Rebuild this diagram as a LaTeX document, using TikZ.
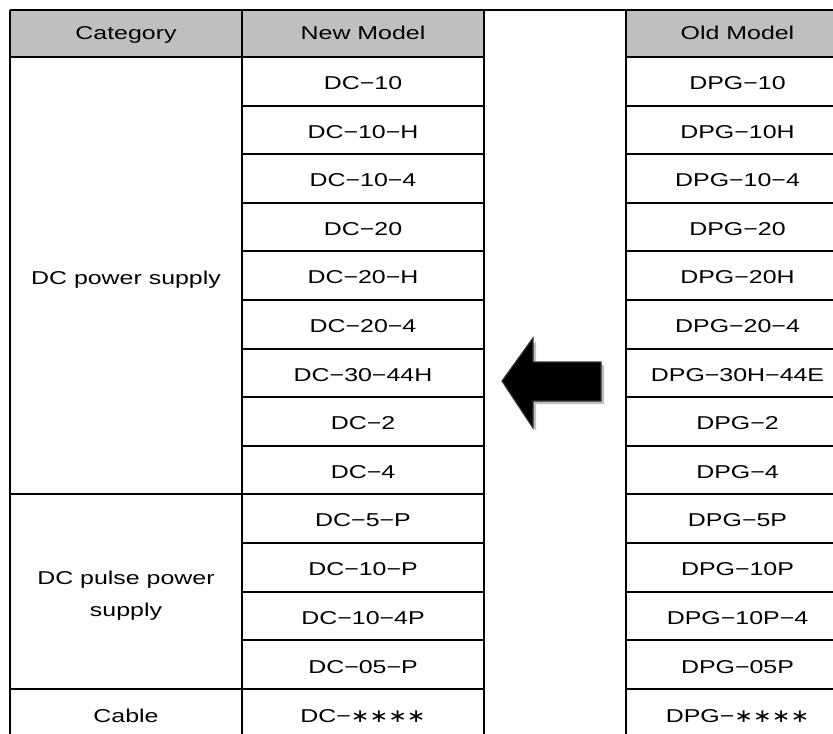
\documentclass[tikz,border=0pt]{standalone}
\usepackage{fontspec}
\setmainfont{Liberation Sans}[FakeStretch=1.34]
\newfontfamily\starfont{DejaVu Sans}[FakeStretch=1.2]
\usepackage{tikz}
\usetikzlibrary{calc,positioning}

\newcommand{\stars}{{\starfont ∗∗∗∗}}

\tikzset{
  cell/.style={inner sep=0pt, text height=0.716em, text depth=0pt,
    font=\fontsize{9.3pt}{16pt}\selectfont},
  rule/.style={line width=1pt},
  headfill/.style={fill=black!25},
}

\begin{document}
\begin{tikzpicture}[x=0.5pt,y=-0.5pt]
\useasboundingbox (0,0) rectangle (833,733);
\begin{scope}
\clip (0,0) rectangle (833,733);
% header shading
\fill [headfill] (10,10) rectangle (484,57);
\fill [headfill] (626,10) rectangle (850,57);
% row rules in the two model columns
\foreach \y in {57,105.6,154.2,202.8,251.4,300,348.6,397.2,445.8,494.4,543,591.6,640.2,688.8}
{
  \draw [rule] (242,\y) -- (484,\y);
  \draw [rule] (626,\y) -- (850,\y);
}
% rules that cross the category column
\draw [rule] (10,57) -- (242,57);
\draw [rule] (10,494.4) -- (242,494.4);
\draw [rule] (10,688.8) -- (242,688.8);
% outer frame and column rules
\draw [rule] (10,10) -- (850,10);
\draw [rule] (10,10) -- (10,740);
\draw [rule] (242,10) -- (242,740);
\draw [rule] (484,10) -- (484,740);
\draw [rule] (626,10) -- (626,740);
\end{scope}

% headings
\node[cell] (cathead) at (126,32) {Category};
\node[cell] (newhead) at (363,32) {New Model};
\node[cell] (oldhead) at (737.5,32) {Old Model};

% categories
\node[cell] (catdc) at (126,277) {DC power supply};
\node[cell, align=center] (catpulse) at (126,609)%
{DC pulse power\\supply};
\node[cell] (catcable) at (126,715) {Cable};

% new models
\node[cell] (new1) at (363,82.3) {DC−10};
\node[cell] (new2) at (363,130.9) {DC−10−H};
\node[cell] (new3) at (363,179.5) {DC−10−4};
\node[cell] (new4) at (363,228.1) {DC−20};
\node[cell] (new5) at (363,276.7) {DC−20−H};
\node[cell] (new6) at (363,325.3) {DC−20−4};
\node[cell] (new7) at (363,373.9) {DC−30−44H};
\node[cell] (new8) at (363,422.5) {DC−2};
\node[cell] (new9) at (363,471.1) {DC−4};
\node[cell] (new10) at (363,519.7) {DC−5−P};
\node[cell] (new11) at (363,568.3) {DC−10−P};
\node[cell] (new12) at (363,616.9) {DC−10−4P};
\node[cell] (new13) at (363,666.5) {DC−05−P};
\node[cell] (new14) at (363,715) {DC−\stars};

% old models
\node[cell] (old1) at (737.5,82.3) {DPG−10};
\node[cell] (old2) at (737.5,130.9) {DPG−10H};
\node[cell] (old3) at (737.5,179.5) {DPG−10−4};
\node[cell] (old4) at (737.5,228.1) {DPG−20};
\node[cell] (old5) at (737.5,276.7) {DPG−20H};
\node[cell] (old6) at (737.5,325.3) {DPG−20−4};
\node[cell] (old7) at (737.5,373.9) {DPG−30H−44E};
\node[cell] (old8) at (737.5,422.5) {DPG−2};
\node[cell] (old9) at (737.5,471.1) {DPG−4};
\node[cell] (old10) at (737.5,519.7) {DPG−5P};
\node[cell] (old11) at (737.5,568.3) {DPG−10P};
\node[cell] (old12) at (737.5,616.9) {DPG−10P−4};
\node[cell] (old13) at (737.5,666.5) {DPG−05P};
\node[cell] (old14) at (737.5,715) {DPG−\stars};

% block arrow, old -> new
\fill [black!25] (505,384) -- (536,341) -- (536,365) -- (604,365)
  -- (604,404) -- (536,404) -- (536,431) -- cycle;
\fill [draw=black!80, line width=0.6pt, fill=black]
  (502,381) -- (533,338) -- (533,362) -- (601,362)
  -- (601,401) -- (533,401) -- (533,428) -- cycle;
\end{tikzpicture}
\end{document}
